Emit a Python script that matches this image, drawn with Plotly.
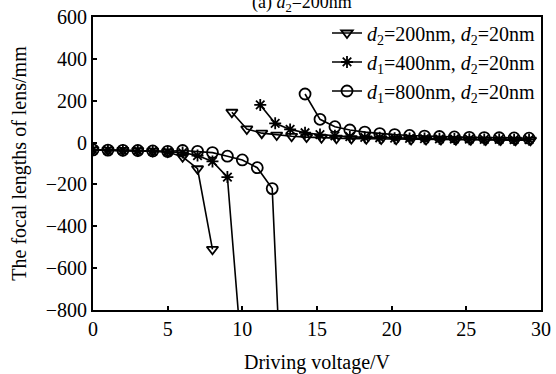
import plotly.graph_objects as go

# Series 1: d2=200nm (triangle-down)
tri_neg_x = [0, 1, 2, 3, 4, 5, 6, 7, 8]
tri_neg_y = [-35, -36, -37, -39, -41, -45, -68, -125, -510]
tri_pos_x = [9.3, 10.3, 11.3, 12.3, 13.3, 14.3, 15.3, 16.3, 17.3, 18.3, 19.3,
             20.3, 21.3, 22.3, 23.3, 24.3, 25.3, 26.3, 27.3, 28.3, 29.3]
tri_pos_y = [145, 65, 45, 36, 30, 26, 23, 21, 19, 18, 17,
             16, 15, 14, 14, 13, 13, 12, 12, 11, 11]

# Series 2: d1=400nm (star)
star_neg_x = [0, 1, 2, 3, 4, 5, 6, 7, 8, 9, 10]
star_neg_y = [-35, -36, -37, -39, -41, -44, -48, -62, -90, -165, -1050]
star_pos_x = [11.2, 12.2, 13.2, 14.2, 15.2, 16.2, 17.2, 18.2, 19.2, 20.2,
              21.2, 22.2, 23.2, 24.2, 25.2, 26.2, 27.2, 28.2, 29.2]
star_pos_y = [180, 92, 63, 47, 38, 32, 28, 25, 23, 21,
              20, 19, 18, 17, 16, 15, 15, 14, 14]

# Series 3: d1=800nm (circle)
circ_neg_x = [0, 1, 2, 3, 4, 5, 6, 7, 8, 9, 10, 11, 12, 13]
circ_neg_y = [-35, -36, -37, -38, -40, -42, -38, -42, -48, -65, -83, -120, -220, -1800]
circ_pos_x = [14.2, 15.2, 16.2, 17.2, 18.2, 19.2, 20.2, 21.2, 22.2, 23.2,
              24.2, 25.2, 26.2, 27.2, 28.2, 29.2]
circ_pos_y = [232, 111, 76, 60, 50, 43, 38, 34, 31, 29,
              27, 25, 24, 23, 22, 21]

names = ["<i>d</i><sub>2</sub>=200nm, <i>d</i><sub>2</sub>=20nm",
         "<i>d</i><sub>1</sub>=400nm, <i>d</i><sub>2</sub>=20nm",
         "<i>d</i><sub>1</sub>=800nm, <i>d</i><sub>2</sub>=20nm"]

FONT = "Liberation Serif, Times New Roman, serif"

fig = go.Figure()

series = [
    (tri_neg_x, tri_neg_y, tri_pos_x, tri_pos_y, "triangle-down-open", 10),
    (star_neg_x, star_neg_y, star_pos_x, star_pos_y, "asterisk-open", 10),
    (circ_neg_x, circ_neg_y, circ_pos_x, circ_pos_y, "circle-open", 11),
]

for i, (nx, ny, px, py, sym, sz) in enumerate(series):
    mk = dict(symbol=sym, size=sz, color="black", line=dict(color="black", width=1.8))
    fig.add_trace(go.Scatter(x=nx, y=ny, mode="lines+markers", name=names[i],
                             line=dict(color="black", width=1.6), marker=mk,
                             legendgroup=str(i), showlegend=True))
    fig.add_trace(go.Scatter(x=px, y=py, mode="lines+markers", name=names[i],
                             line=dict(color="black", width=1.6), marker=mk,
                             legendgroup=str(i), showlegend=False))

axis_common = dict(
    showline=True, linecolor="black", linewidth=2, mirror=True,
    ticks="inside", ticklen=4, tickwidth=2, tickcolor="black",
    showgrid=False, zeroline=False, automargin=False,
    tickfont=dict(family=FONT, size=20, color="black"),
)

fig.update_xaxes(range=[0, 30], tick0=0, dtick=5,
                 title=dict(text="Driving voltage/V", font=dict(family=FONT, size=20, color="black"),
                            standoff=16),
                 **axis_common)
fig.update_yaxes(range=[-800, 600], tick0=-800, dtick=200, tickformat="d",
                 title=dict(text="The focal lengths of lens/mm", font=dict(family=FONT, size=20, color="black"),
                            standoff=14),
                 **axis_common)

fig.update_layout(
    width=556, height=374,
    margin=dict(l=93, r=15, t=17, b=64, autoexpand=False),
    paper_bgcolor="white", plot_bgcolor="white",
    font=dict(family=FONT, size=20, color="black"),
    title=dict(text="(a) <i>d</i><sub>2</sub>=200nm", x=0.543, xanchor="center",
               y=0.995, yanchor="middle", yref="container",
               font=dict(family=FONT, size=18, color="black")),
    legend=dict(x=1.0, xanchor="right", y=1.012, yanchor="top",
                bgcolor="rgba(0,0,0,0)", borderwidth=0,
                font=dict(family=FONT, size=20, color="black"),
                itemwidth=30, tracegroupgap=0),
    showlegend=True,
)

fig.write_html("out.html")
